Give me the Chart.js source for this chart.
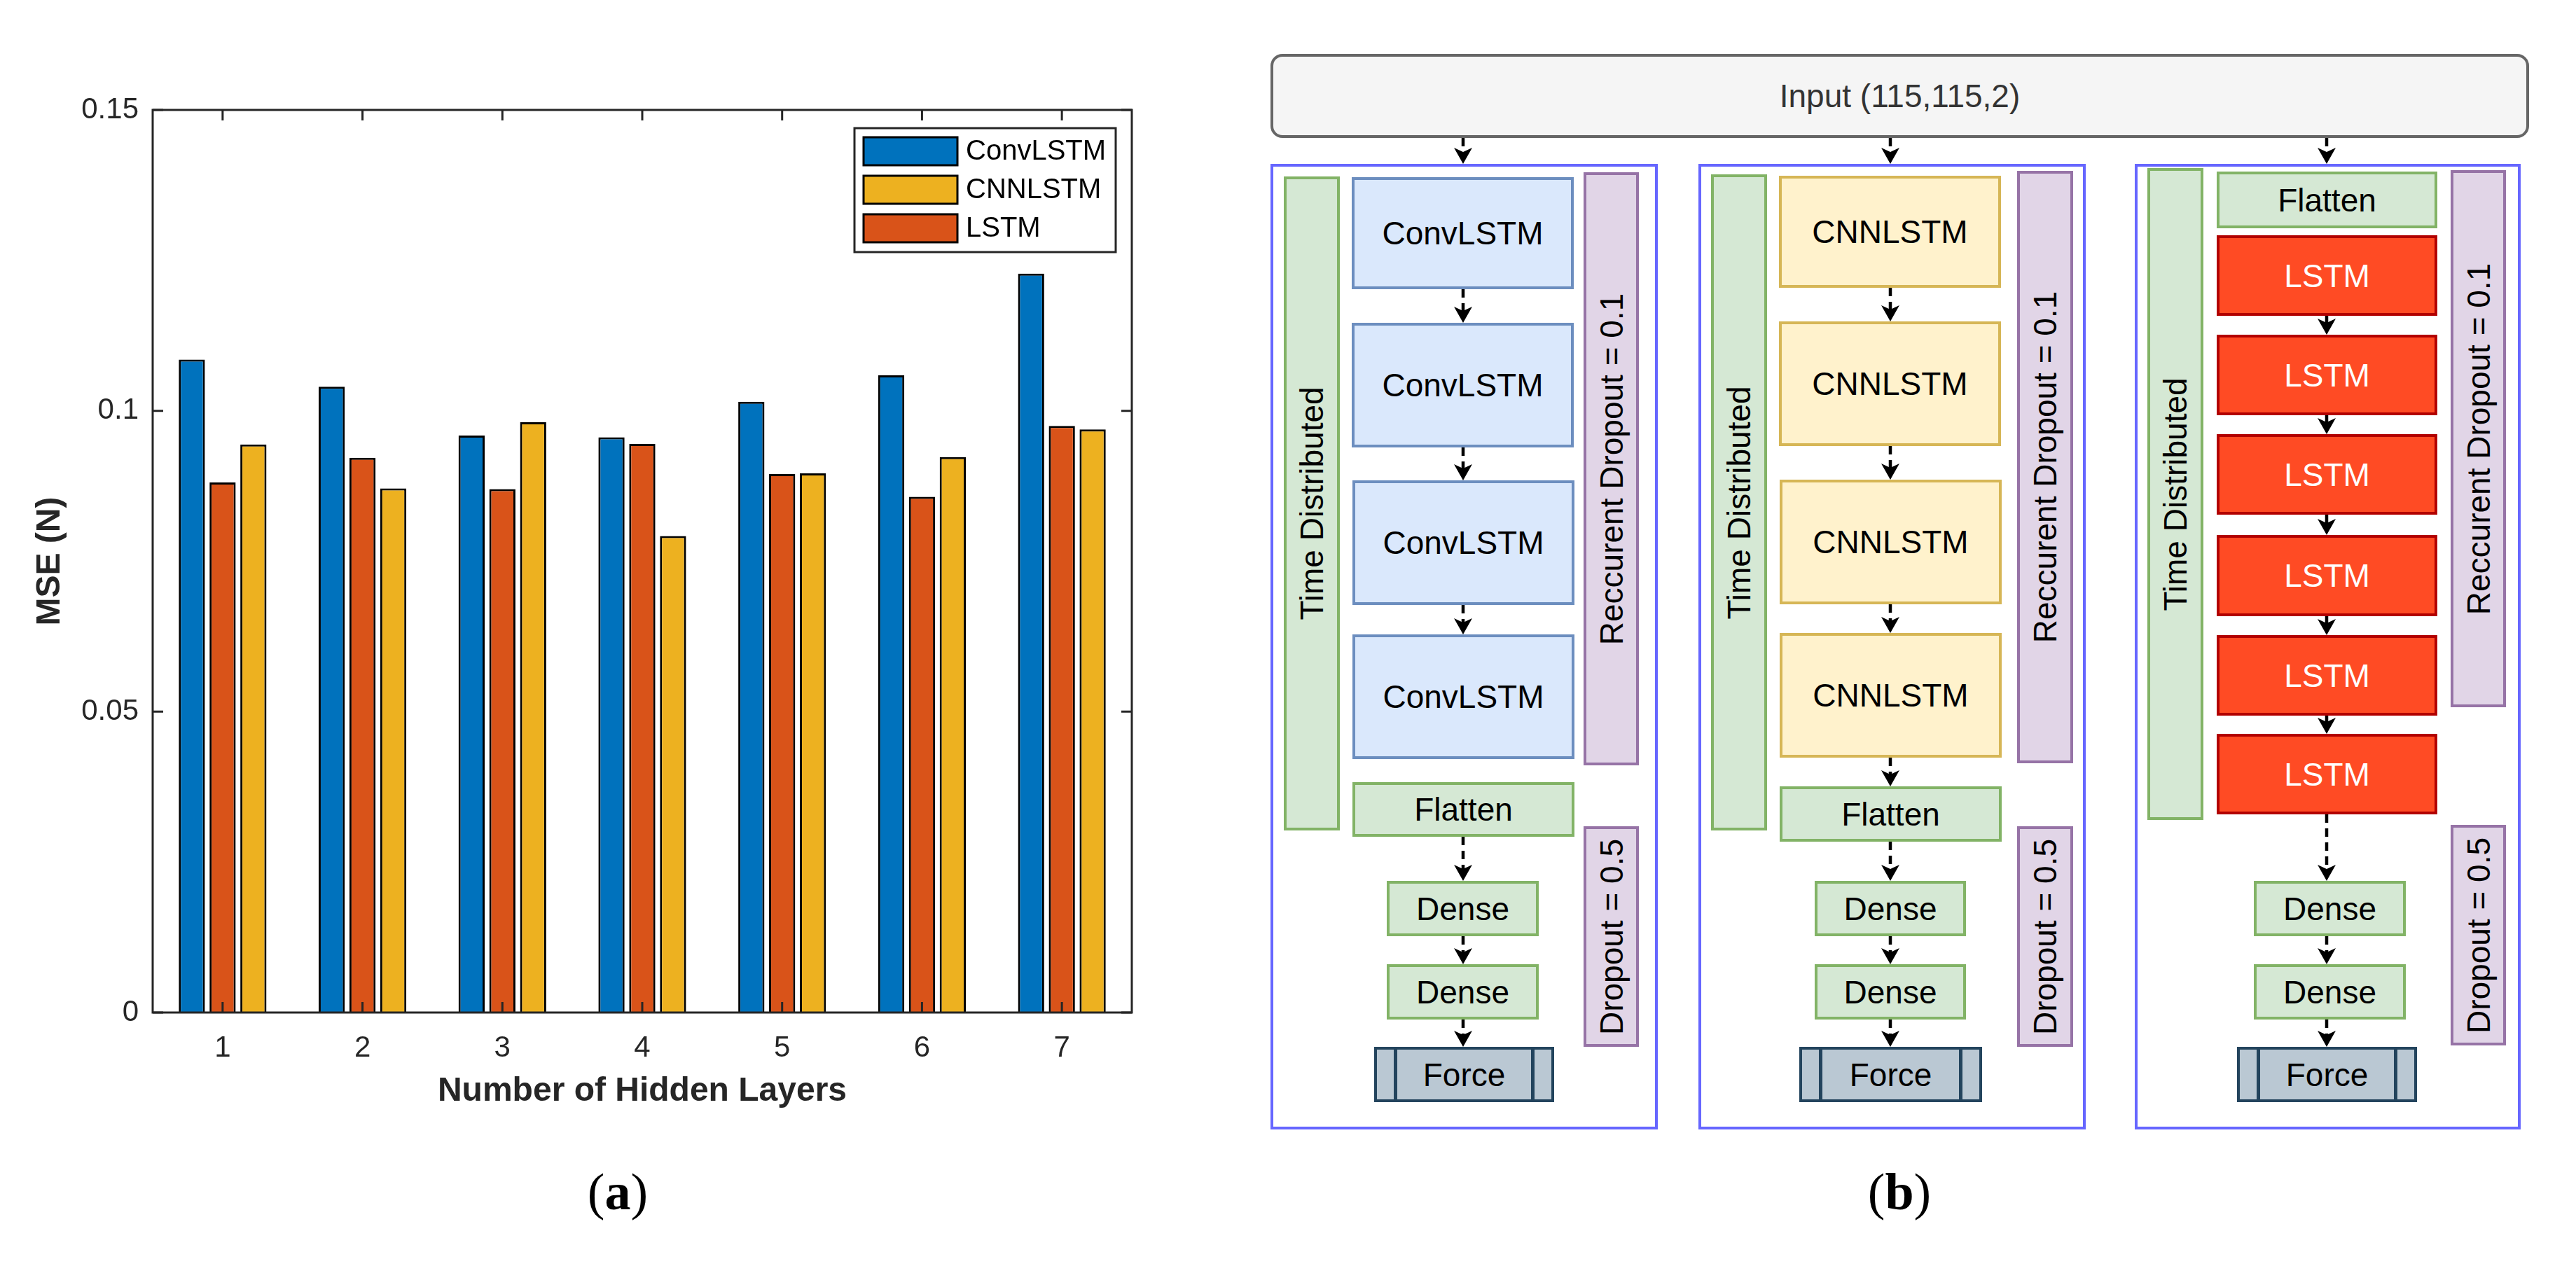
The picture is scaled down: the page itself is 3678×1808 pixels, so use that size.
<!DOCTYPE html>
<html>
<head>
<meta charset="utf-8">
<script src="https://cdn.jsdelivr.net/npm/chart.js@4.4.1/dist/chart.umd.min.js"></script>
<style>
	html, body { margin: 0; padding: 0; background: #fff; }
	#page { position: relative; width: 3678px; height: 1808px; overflow: hidden; font-family: "Liberation Sans", Arial, sans-serif; }
	#chartBox { position: absolute; left: 0; top: 0; width: 1760px; height: 1650px; }
	#arrows { position: absolute; left: 0; top: 0; }
	.blk { position: absolute; box-sizing: border-box; border: 4px solid; font-size: 46px; color: #000; white-space: nowrap; }
	.blk span { position: absolute; left: 50%; top: 50%; transform: translate(-50%, -50%); }
	.blk.rot span { transform: translate(-50%, -50%) rotate(-90deg); }
	.blk .bar { position: absolute; top: 0; bottom: 0; width: 24px; border: 0 solid #23445d; }
	.caption { position: absolute; font-family: "Liberation Serif", "Times New Roman", serif; font-size: 74px; color: #000; transform: translate(-50%, -50%); }
</style>
</head>
<body>
<div id="page">
	<div id="chartBox"><canvas id="mseChart"></canvas></div>
	<div class="caption" style="left:882px; top:1702px;">(<b>a</b>)</div>
	<div class="caption" style="left:2712px; top:1702px;">(<b>b</b>)</div>
	<div id="diagram"></div>
	<svg id="arrows" width="3678" height="1808"></svg>
</div>
<script>
// chart (a) data
const hiddenLayers = ['1', '2', '3', '4', '5', '6', '7'];
const convLstmMse = [0.1085, 0.1040, 0.0959, 0.0956, 0.1015, 0.1059, 0.1228];
const lstmMse = [0.0881, 0.0922, 0.0870, 0.0945, 0.0895, 0.0857, 0.0975];
const cnnLstmMse = [0.0944, 0.0871, 0.0981, 0.0792, 0.0896, 0.0923, 0.0969];
const yTicks = [0, 0.05, 0.1, 0.15];
const legendOrder = ['ConvLSTM', 'CNNLSTM', 'LSTM'];

const axisColor = '#262626';
const fontFamily = '"Liberation Sans", Arial, sans-serif';

// matlab style box with inward ticks on all four sides
const matlabAxes = {
	id: 'matlabAxes',
	afterDatasetsDraw(chart) {
		const {ctx, chartArea: a, scales: {x, y}} = chart;
		const tl = 15;
		ctx.save();
		ctx.strokeStyle = axisColor;
		ctx.lineWidth = 3;
		ctx.strokeRect(a.left, a.top, a.width, a.height);
		ctx.beginPath();
		x.ticks.forEach((t, i) => {
			const px = x.getPixelForTick(i);
			ctx.moveTo(px, a.bottom); ctx.lineTo(px, a.bottom - tl);
			ctx.moveTo(px, a.top); ctx.lineTo(px, a.top + tl);
		});
		y.ticks.forEach((t, i) => {
			const py = y.getPixelForTick(i);
			ctx.moveTo(a.left, py); ctx.lineTo(a.left + tl, py);
			ctx.moveTo(a.right, py); ctx.lineTo(a.right - tl, py);
		});
		ctx.stroke();
		ctx.restore();
	}
};

// boxed legend in the top right corner, in legendOrder
const boxedLegend = {
	id: 'boxedLegend',
	afterDraw(chart) {
		const {ctx, chartArea: a} = chart;
		const w = 373, h = 177;
		const left = a.right - 23 - w, top = a.top + 26;
		ctx.save();
		ctx.fillStyle = '#fff';
		ctx.fillRect(left, top, w, h);
		ctx.strokeStyle = axisColor;
		ctx.lineWidth = 3;
		ctx.strokeRect(left, top, w, h);
		ctx.font = '40px ' + fontFamily;
		ctx.textBaseline = 'middle';
		legendOrder.forEach((name, i) => {
			const ds = chart.data.datasets.find((d) => d.label === name);
			const cy = top + 33 + i * 55;
			ctx.fillStyle = ds.backgroundColor;
			ctx.fillRect(left + 13, cy - 20, 134, 40);
			ctx.strokeStyle = '#000';
			ctx.strokeRect(left + 13, cy - 20, 134, 40);
			ctx.fillStyle = '#000';
			ctx.fillText(name, left + 159, cy + 1);
		});
		ctx.restore();
	}
};

function barSet(label, data, color) {
	return {
		label: label,
		data: data,
		backgroundColor: color,
		borderColor: '#000',
		borderWidth: 3,
		categoryPercentage: 0.66,
		barPercentage: 0.85
	};
}

new Chart(document.getElementById('mseChart'), {
	type: 'bar',
	data: {
		labels: hiddenLayers,
		datasets: [
			barSet('ConvLSTM', convLstmMse, '#0072BD'),
			barSet('LSTM', lstmMse, '#D95319'),
			barSet('CNNLSTM', cnnLstmMse, '#EDB120')
		]
	},
	options: {
		responsive: true,
		maintainAspectRatio: false,
		animation: false,
		layout: { padding: { top: 157, right: 144, bottom: 0, left: 0 } },
		plugins: {
			legend: { display: false },
			tooltip: { enabled: false },
			title: { display: false }
		},
		scales: {
			x: {
				offset: true,
				grid: { display: false, drawTicks: false },
				border: { display: false },
				ticks: { color: axisColor, padding: 26, font: { size: 42, family: fontFamily } },
				title: {
					display: true,
					text: 'Number of Hidden Layers',
					color: axisColor,
					font: { size: 48, weight: 'bold', family: fontFamily },
					padding: { top: 0, bottom: 62 }
				},
				afterFit: (s) => { s.height = 204; }
			},
			y: {
				min: 0,
				max: 0.15,
				grid: { display: false, drawTicks: false },
				border: { display: false },
				afterBuildTicks: (s) => { s.ticks = yTicks.map((v) => ({ value: v })); },
				ticks: {
					color: axisColor,
					padding: 20,
					font: { size: 42, family: fontFamily },
					callback: (v) => String(+Number(v).toFixed(2))
				},
				title: {
					display: true,
					text: 'MSE (N)',
					color: axisColor,
					font: { size: 48, weight: 'bold', family: fontFamily },
					padding: { top: 43, bottom: 0 }
				},
				afterFit: (s) => { s.width = 218; }
			}
		}
	},
	plugins: [matlabAxes, boxedLegend]
});

// diagram (b): layer boxes as [x1, y1, x2, y2, kind, text, rotated]
const blockStyles = {
	input: { bg: '#f5f5f5', line: '#666666', color: '#333333' },
	frame: { bg: 'transparent', line: '#6666ff' },
	blue: { bg: '#dae8fc', line: '#6c8ebf' },
	yellow: { bg: '#fff2cc', line: '#d6b656' },
	green: { bg: '#d5e8d4', line: '#82b366' },
	purple: { bg: '#e1d5e7', line: '#9673a6' },
	red: { bg: '#ff4b24', line: '#b20000', color: '#fff' },
	force: { bg: '#bac8d3', line: '#23445d' }
};

const diagramBlocks = [
	[1814, 77, 3611, 197, 'input', 'Input (115,115,2)'],
	[1814, 234, 2367, 1613, 'frame', ''],
	[2425, 234, 2978, 1613, 'frame', ''],
	[3048, 234, 3599, 1613, 'frame', ''],
	// convlstm model
	[1833, 252, 1913, 1186, 'green', 'Time Distributed', true],
	[1930, 253, 2247, 413, 'blue', 'ConvLSTM'],
	[1930, 461, 2247, 639, 'blue', 'ConvLSTM'],
	[1931, 686, 2248, 864, 'blue', 'ConvLSTM'],
	[1931, 906, 2248, 1084, 'blue', 'ConvLSTM'],
	[2261, 246, 2340, 1093, 'purple', 'Reccurent Dropout = 0.1', true],
	[1931, 1117, 2248, 1195, 'green', 'Flatten'],
	[1980, 1258, 2197, 1337, 'green', 'Dense'],
	[1980, 1377, 2197, 1456, 'green', 'Dense'],
	[1962, 1495, 2219, 1574, 'force', 'Force'],
	[2261, 1180, 2340, 1495, 'purple', 'Dropout = 0.5', true],
	// cnnlstm model
	[2443, 249, 2523, 1186, 'green', 'Time Distributed', true],
	[2540, 251, 2857, 411, 'yellow', 'CNNLSTM'],
	[2540, 459, 2857, 637, 'yellow', 'CNNLSTM'],
	[2541, 685, 2858, 863, 'yellow', 'CNNLSTM'],
	[2541, 904, 2858, 1082, 'yellow', 'CNNLSTM'],
	[2880, 244, 2960, 1090, 'purple', 'Reccurent Dropout = 0.1', true],
	[2541, 1123, 2858, 1202, 'green', 'Flatten'],
	[2591, 1258, 2807, 1337, 'green', 'Dense'],
	[2591, 1377, 2807, 1456, 'green', 'Dense'],
	[2569, 1495, 2830, 1574, 'force', 'Force'],
	[2880, 1180, 2960, 1495, 'purple', 'Dropout = 0.5', true],
	// lstm model
	[3066, 240, 3146, 1171, 'green', 'Time Distributed', true],
	[3165, 245, 3480, 326, 'green', 'Flatten'],
	[3165, 336, 3480, 451, 'red', 'LSTM'],
	[3165, 478, 3480, 593, 'red', 'LSTM'],
	[3165, 620, 3480, 735, 'red', 'LSTM'],
	[3165, 764, 3480, 880, 'red', 'LSTM'],
	[3165, 907, 3480, 1022, 'red', 'LSTM'],
	[3165, 1048, 3480, 1163, 'red', 'LSTM'],
	[3499, 243, 3578, 1010, 'purple', 'Reccurent Dropout = 0.1', true],
	[3218, 1258, 3435, 1337, 'green', 'Dense'],
	[3218, 1377, 3435, 1456, 'green', 'Dense'],
	[3194, 1495, 3451, 1574, 'force', 'Force'],
	[3499, 1178, 3578, 1493, 'purple', 'Dropout = 0.5', true]
];

// dashed arrows as [x, yStart, yTip]
const diagramArrows = [
	[2089, 197, 234], [2699, 197, 234], [3322, 197, 234],
	[2089, 413, 461], [2089, 639, 686], [2089, 864, 906],
	[2089, 1195, 1258], [2089, 1337, 1377], [2089, 1456, 1495],
	[2699, 411, 459], [2699, 637, 685], [2699, 863, 904], [2699, 1082, 1123],
	[2699, 1202, 1258], [2699, 1337, 1377], [2699, 1456, 1495],
	[3322, 451, 478], [3322, 593, 620], [3322, 735, 764], [3322, 880, 907], [3322, 1022, 1048],
	[3322, 1163, 1258], [3322, 1337, 1377], [3322, 1456, 1495]
];

const diagram = document.getElementById('diagram');
diagramBlocks.forEach(([x1, y1, x2, y2, kind, text, rotated]) => {
	const st = blockStyles[kind];
	const el = document.createElement('div');
	el.className = 'blk' + (rotated ? ' rot' : '');
	Object.assign(el.style, {
		left: x1 + 'px', top: y1 + 'px', width: (x2 - x1) + 'px', height: (y2 - y1) + 'px',
		background: st.bg, borderColor: st.line, color: st.color || '#000'
	});
	if (kind === 'input') el.style.borderRadius = '17px';
	if (kind === 'force') {
		// process shape: inner bars on both ends
		const l = document.createElement('div');
		l.className = 'bar';
		l.style.left = '0'; l.style.borderRightWidth = '5px';
		const r = document.createElement('div');
		r.className = 'bar';
		r.style.right = '0'; r.style.borderLeftWidth = '5px';
		el.appendChild(l); el.appendChild(r);
	}
	if (text) {
		const span = document.createElement('span');
		span.textContent = text;
		el.appendChild(span);
	}
	diagram.appendChild(el);
});

const svg = document.getElementById('arrows');
const ns = 'http://www.w3.org/2000/svg';
diagramArrows.forEach(([x, y1, tip]) => {
	const headLen = 23, halfW = 13, notch = 6;
	if (tip - headLen - y1 > 2) {
		const shaft = document.createElementNS(ns, 'line');
		shaft.setAttribute('x1', x); shaft.setAttribute('x2', x);
		shaft.setAttribute('y1', y1); shaft.setAttribute('y2', tip - headLen + notch);
		shaft.setAttribute('stroke', '#000');
		shaft.setAttribute('stroke-width', 4.5);
		shaft.setAttribute('stroke-dasharray', '12 8');
		svg.appendChild(shaft);
	}
	const head = document.createElementNS(ns, 'path');
	head.setAttribute('d', `M${x},${tip} L${x - halfW},${tip - headLen} L${x},${tip - headLen + notch} L${x + halfW},${tip - headLen} Z`);
	head.setAttribute('fill', '#000');
	svg.appendChild(head);
});
</script>
</body>
</html>
